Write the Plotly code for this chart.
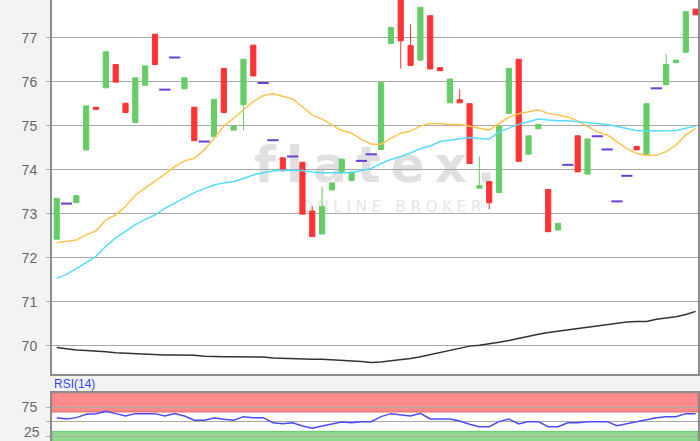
import plotly.graph_objects as go

# ---------------- data ----------------
day = list(range(66))

open_ = [72.42, 73.23, 73.25, 74.45, 75.42, 75.86, 76.39, 75.51, 75.07, 75.92,
         77.08, 75.82, 76.55, 75.84, 75.42, 74.64, 74.75, 76.30, 74.90, 75.48,
         76.83, 75.97, 74.67, 74.27, 74.30, 74.17, 73.06, 72.54, 73.54, 73.93,
         73.75, 74.20, 74.35, 74.46, 76.87, 78.10, 76.82, 76.49, 77.50, 76.32,
         75.52, 75.59, 75.50, 73.58, 73.73, 73.48, 75.28, 76.51, 74.35, 74.93,
         73.55, 72.63, 74.11, 74.77, 73.90, 74.76, 74.46, 73.28, 73.86, 74.53,
         74.33, 75.85, 75.93, 76.43, 76.67, 77.65]
close = [73.35, 73.23, 73.41, 75.45, 75.37, 76.68, 75.99, 75.30, 76.09, 76.36,
         76.39, 75.82, 76.55, 76.09, 74.66, 74.64, 75.60, 75.30, 74.98, 76.51,
         76.13, 75.97, 74.67, 74.00, 74.30, 72.99, 72.48, 73.16, 73.70, 74.24,
         73.95, 74.20, 74.35, 75.98, 77.23, 76.93, 76.37, 77.69, 76.29, 76.25,
         76.06, 75.52, 74.14, 73.64, 73.25, 74.99, 76.30, 74.19, 74.77, 75.03,
         72.59, 72.78, 74.11, 73.95, 74.70, 74.76, 74.46, 73.28, 73.86, 74.45,
         75.50, 75.85, 76.39, 76.49, 77.59, 77.52]
high = [73.35, 73.23, 73.41, 75.45, 75.42, 76.68, 76.39, 75.51, 76.09, 76.36,
        77.08, 75.82, 76.55, 76.09, 75.42, 74.64, 75.60, 76.30, 74.98, 76.51,
        76.83, 75.97, 74.67, 74.27, 74.30, 74.17, 73.17, 73.61, 73.70, 74.24,
        73.95, 74.20, 74.35, 75.98, 77.23, 78.10, 77.30, 77.69, 77.50, 76.32,
        76.06, 75.83, 75.50, 74.30, 73.73, 74.99, 76.30, 76.51, 74.77, 75.03,
        73.55, 72.78, 74.11, 74.77, 74.70, 74.76, 74.46, 73.28, 73.86, 74.53,
        75.50, 75.85, 76.63, 76.49, 77.59, 77.65]
low = [72.42, 73.23, 73.25, 74.45, 75.37, 75.86, 75.99, 75.30, 75.07, 75.92,
       76.39, 75.82, 76.55, 75.84, 74.66, 74.64, 74.75, 75.30, 74.90, 74.90,
       76.13, 75.97, 74.67, 73.95, 74.30, 72.99, 72.48, 72.54, 73.54, 73.93,
       73.75, 74.20, 74.35, 74.46, 76.87, 76.30, 76.37, 76.49, 76.29, 76.25,
       75.52, 75.52, 74.14, 73.58, 73.10, 73.48, 75.28, 74.19, 74.35, 74.93,
       72.59, 72.63, 74.11, 73.95, 73.90, 74.76, 74.46, 73.28, 73.86, 74.45,
       74.33, 75.85, 75.93, 76.43, 76.67, 77.52]

sma_fast = [72.34, 72.37, 72.40, 72.52, 72.61, 72.86, 72.97, 73.17, 73.42, 73.58,
            73.73, 73.90, 74.07, 74.20, 74.26, 74.45, 74.71, 74.99, 75.17, 75.36,
            75.55, 75.68, 75.73, 75.67, 75.61, 75.43, 75.24, 75.15, 75.02, 74.89,
            74.83, 74.69, 74.58, 74.58, 74.71, 74.83, 74.88, 74.99, 75.05, 75.05,
            75.03, 75.03, 74.99, 74.94, 74.90, 75.05, 75.19, 75.27, 75.32, 75.36,
            75.28, 75.24, 75.20, 75.11, 74.98, 74.86, 74.79, 74.64, 74.48, 74.37,
            74.33, 74.33, 74.41, 74.56, 74.79, 74.94]
sma_mid = [71.53, 71.62, 71.75, 71.89, 72.03, 72.26, 72.45, 72.60, 72.75, 72.87,
           72.97, 73.12, 73.24, 73.37, 73.48, 73.57, 73.65, 73.70, 73.73, 73.80,
           73.88, 73.93, 73.97, 73.99, 73.99, 73.98, 73.95, 73.93, 73.93, 73.93,
           73.93, 73.98, 74.03, 74.14, 74.23, 74.30, 74.38, 74.48, 74.54, 74.64,
           74.67, 74.71, 74.73, 74.71, 74.69, 74.86, 74.94, 75.03, 75.09, 75.15,
           75.13, 75.11, 75.11, 75.09, 75.07, 75.05, 75.03, 74.98, 74.94, 74.89,
           74.88, 74.88, 74.88, 74.89, 74.94, 74.99]
sma_slow = [69.96, 69.93, 69.90, 69.89, 69.88, 69.86, 69.84, 69.83, 69.81, 69.80,
            69.79, 69.79, 69.79, 69.79, 69.78, 69.76, 69.75, 69.75, 69.75, 69.75,
            69.75, 69.74, 69.72, 69.71, 69.71, 69.70, 69.69, 69.69, 69.68, 69.66,
            69.66, 69.64, 69.62, 69.63, 69.66, 69.68, 69.71, 69.75, 69.80, 69.84,
            69.90, 69.94, 69.99, 70.01, 70.04, 70.08, 70.12, 70.17, 70.22, 70.26,
            70.30, 70.33, 70.36, 70.39, 70.42, 70.45, 70.48, 70.51, 70.54, 70.55,
            70.55, 70.60, 70.63, 70.66, 70.71, 70.78]
rsi = [57.0, 54.7, 57.0, 62.7, 63.9, 67.9, 63.9, 59.8, 63.9, 63.9,
       63.9, 59.8, 63.9, 59.8, 52.4, 52.4, 56.4, 54.1, 52.4, 58.7,
       57.0, 57.0, 48.3, 46.6, 48.3, 42.6, 38.6, 42.6, 45.5, 49.5,
       48.3, 50.1, 50.1, 58.7, 63.9, 61.5, 59.8, 64.4, 54.7, 54.7,
       54.7, 51.2, 45.5, 41.4, 41.4, 50.1, 54.7, 46.0, 50.1, 50.1,
       41.4, 41.4, 48.3, 48.3, 50.1, 50.1, 50.1, 43.2, 46.6, 50.1,
       54.1, 57.0, 58.7, 58.7, 63.9, 63.9]

price_ticks = [70, 71, 72, 73, 74, 75, 76, 77]
top_cut_label = "78"
rsi_ticks = [25, 50, 75]
rsi_ticktext = ["", "", "75"]
bottom_cut_label = "25"
rsi_overbought = [66.7, 100]
rsi_oversold = [0, 33.3]

# ---------------- split candles / flat days ----------------
is_flat = [o == c == h == l for o, c, h, l in zip(open_, close, high, low)]
c_open = [None if f else v for f, v in zip(is_flat, open_)]
c_close = [None if f else v for f, v in zip(is_flat, close)]
c_high = [None if f else v for f, v in zip(is_flat, high)]
c_low = [None if f else v for f, v in zip(is_flat, low)]
flat_x = [d for d, f in zip(day, is_flat) if f]
flat_y = [v for v, f in zip(close, is_flat) if f]

GREEN = "#66cc66"
RED = "#ff3333"

fig = go.Figure()

fig.add_trace(go.Candlestick(
    x=day, open=c_open, high=c_high, low=c_low, close=c_close,
    increasing=dict(fillcolor=GREEN, line=dict(color=GREEN, width=1)),
    decreasing=dict(fillcolor=RED, line=dict(color=RED, width=1)),
    whiskerwidth=0, showlegend=False, hoverinfo="skip",
    xaxis="x", yaxis="y"))

fig.add_trace(go.Scatter(
    x=flat_x, y=flat_y, mode="markers",
    marker=dict(symbol="line-ew", size=8, line=dict(width=2, color="#6a3dd6")),
    showlegend=False, hoverinfo="skip", xaxis="x", yaxis="y"))

for series, col in [(sma_fast, "#ffc44d"), (sma_mid, "#55dcff"), (sma_slow, "#333333")]:
    fig.add_trace(go.Scatter(
        x=day, y=series, mode="lines", line=dict(color=col, width=1.5),
        showlegend=False, hoverinfo="skip", xaxis="x", yaxis="y"))

fig.add_trace(go.Scatter(
    x=day, y=rsi, mode="lines", line=dict(color="#4a4aff", width=1.5),
    showlegend=False, hoverinfo="skip", xaxis="x2", yaxis="y2"))

XR = [-0.478, 65.24]
YR = [69.345, 77.857]
AX_COL = "#8c8c8c"
GRID_COL = "#a8a8a8"
LBL = dict(family="Liberation Sans, Arial, sans-serif", size=14, color="#666666")

fig.update_layout(
    width=700, height=441,
    margin=dict(l=52, r=2, t=0, b=0),
    paper_bgcolor="#f3f3f3", plot_bgcolor="#ffffff",
    showlegend=False, boxgap=0.25,
    xaxis=dict(domain=[0, 1], range=XR, showticklabels=False, showgrid=False,
               zeroline=False, showline=True, linecolor=AX_COL, linewidth=2,
               rangeslider=dict(visible=False), anchor="y", fixedrange=True),
    yaxis=dict(domain=[0.1508, 1], range=YR, tickvals=price_ticks,
               showgrid=True, gridcolor=GRID_COL, gridwidth=1.3,
               ticks="outside", ticklen=4, tickcolor=GRID_COL, tickfont=LBL,
               ticklabelstandoff=6, zeroline=False,
               showline=True, linecolor=AX_COL, linewidth=2, mirror=True,
               anchor="x", fixedrange=True),
    xaxis2=dict(domain=[0, 1], range=XR, showticklabels=False, showgrid=False,
                zeroline=False, showline=True, linecolor=AX_COL, linewidth=2,
                side="top", anchor="y2", fixedrange=True),
    yaxis2=dict(domain=[0, 0.1095], range=[16.7, 100], tickvals=rsi_ticks,
                ticktext=rsi_ticktext, showgrid=True, gridcolor=GRID_COL, gridwidth=1.3,
                ticks="outside", ticklen=4, tickcolor=GRID_COL, tickfont=LBL,
                ticklabelstandoff=6, zeroline=False,
                showline=True, linecolor=AX_COL, linewidth=2, mirror=True,
                anchor="x2", fixedrange=True),
)

# RSI zones
fig.add_shape(type="rect", xref="x2 domain", yref="y2", x0=0, x1=1,
              y0=rsi_overbought[0], y1=rsi_overbought[1],
              fillcolor="#ff8a8a", line=dict(color="#e86a6a", width=1), layer="below")
fig.add_shape(type="rect", xref="x2 domain", yref="y2", x0=0, x1=1,
              y0=rsi_oversold[0], y1=rsi_oversold[1],
              fillcolor="#8fd98f", line=dict(color="#6cc46c", width=1), layer="below")

# watermark (below everything)
fig.add_shape(type="rect", xref="paper", yref="paper", x0=0.30, x1=0.70, y0=0.57, y1=0.70,
              line=dict(width=0), fillcolor="rgba(0,0,0,0)", layer="below",
              label=dict(text="f\u2009l\u2009a\u2009t\u2009e\u2009x\u2009.",
                         textposition="middle center",
                         font=dict(family="DejaVu Sans, sans-serif", size=50,
                                   color="#e0e0e0", weight="bold")))
fig.add_shape(type="rect", xref="paper", yref="paper", x0=0.30, x1=0.75, y0=0.493, y1=0.573,
              line=dict(width=0), fillcolor="rgba(0,0,0,0)", layer="below",
              label=dict(text="O N L I N E   B R O K E R", textposition="middle center",
                         font=dict(family="DejaVu Sans, sans-serif", size=15,
                                   color="#e6e6e6")))

# tick label of 78, sitting just above the visible top edge (mostly cut off, as in the source)
main_dom = (0.1508, 1.0)
y78 = main_dom[0] + (78 - YR[0]) / (YR[1] - YR[0]) * (main_dom[1] - main_dom[0])
fig.add_annotation(text=top_cut_label, xref="paper", yref="paper", x=-0.0175, y=y78,
                   xanchor="right", yanchor="middle", showarrow=False, font=LBL)
# tick label of 25 at the bottom edge of the RSI pane
fig.add_annotation(text=bottom_cut_label, xref="paper", yref="paper", x=-0.0175, y=0,
                   xanchor="right", yanchor="bottom", showarrow=False, borderpad=0,
                   font=LBL)

fig.add_annotation(text="RSI(14)", xref="paper", yref="paper", x=0.0, y=0.129,
                   xanchor="left", yanchor="middle", showarrow=False,
                   font=dict(family="Liberation Sans, Arial, sans-serif", size=12,
                             color="#3344ff"))

fig.write_html("out.html", config={"displayModeBar": False},
               post_script="document.body.style.margin='0';document.body.style.overflow='hidden';")
